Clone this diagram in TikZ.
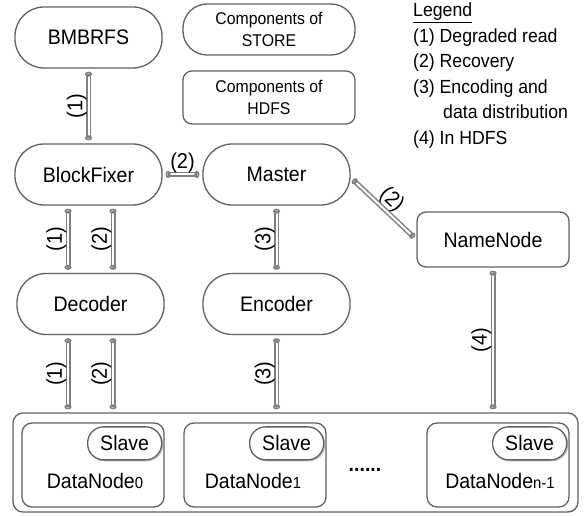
\documentclass[tikz,border=0pt]{standalone}
\usepackage{fontspec}
\setmainfont{Liberation Sans}[FakeStretch=0.93]
\usetikzlibrary{calc,arrows.meta}
\newcommand\fbig{\fontsize{21}{25}\selectfont}
\newcommand\fleg{\fontsize{19}{22}\selectfont}
\newcommand\flab{\fontsize{21.5}{24}\selectfont}
\newcommand\fcomp{\fontsize{17}{22}\selectfont}
\newcommand\fsub{\fontsize{16}{16}\selectfont}
\tikzset{bulb/.tip={Circle[open, length=5pt, width=7pt]}}
\begin{document}
\begin{tikzpicture}[x=1pt,y=-1pt,
  box/.style={draw=black!62, line width=1.3pt, align=center, inner sep=0pt},
  pill/.style={box, rounded corners=29pt, minimum width=147pt, minimum height=61pt, font=\fbig},
  rbox/.style={box, rounded corners=9pt},
  dnbox/.style={box, rounded corners=10pt, minimum width=142pt, minimum height=84pt},
  slave/.style={box, fill=white, rounded corners=16pt, minimum width=74pt, minimum height=33pt, font=\fbig},
  slaveshade/.style={draw=black!30, line width=1pt, rounded corners=16pt, minimum width=74pt, minimum height=33pt, inner sep=0pt},
  conn/.style={draw=black!50, double=white, double distance=2pt, line width=1.5pt,
    line cap=round, shorten <=3pt, shorten >=3pt, arrows={bulb-bulb}},
  lbl/.style={font=\flab, inner sep=1pt},
  vlbl/.style={lbl, rotate=90, anchor=south},
  leg/.style={font=\fleg, anchor=base west, inner sep=0pt}
]
\useasboundingbox (0,0) rectangle (587,516);

% STORE and HDFS components
\node[pill] (bm) at (88.5,37.5) {BMBRFS};
\node[pill] (bf) at (88.5,174.5) {BlockFixer};
\node[pill] (ms) at (276.5,174.5) {Master};
\node[pill] (dec) at (90.5,304) {Decoder};
\node[pill] (enc) at (276.5,304) {Encoder};
\node[rbox, minimum width=152pt, minimum height=55pt, font=\fbig] (nn) at (493,239.5) {NameNode};

% key boxes
\node[box, rounded corners=24pt, minimum width=172pt, minimum height=51pt, font=\fcomp] (kstore) at (269,29.5) {Components of\\STORE};
\node[rbox, minimum width=172pt, minimum height=53pt, font=\fcomp] (khdfs) at (269,97.5) {Components of\\HDFS};

% legend
\node[leg] (lg0) at (413,16.8) {\underline{Legend}};
\node[leg] (lg1) at (413,42.3) {(1) Degraded read};
\node[leg] (lg2) at (413,67.8) {(2) Recovery};
\node[leg] (lg3) at (413,93.3) {(3) Encoding and};
\node[leg] (lg4) at (443,118.8) {data distribution};
\node[leg] (lg5) at (413,144.3) {(4) In HDFS};

% data nodes
\node[box, rounded corners=10pt, minimum width=565pt, minimum height=99pt] (dn) at (295.5,462.5) {};
\node[dnbox] (d0) at (93,465) {};
\node[dnbox] (d1) at (255,465) {};
\node[dnbox] (d2) at (498,465) {};
\foreach \b/\n in {d0/s0, d1/s1, d2/s2}{
  \node[slaveshade] at ($(\b.north east)+(-39,22)$) {};
  \node[slave] (\n) at ($(\b.north east)+(-40,21)$) {Slave};
}
\node[font=\fbig, inner sep=0pt] (t0) at (95,481) {DataNode{\fsub 0}};
\node[font=\fbig, inner sep=0pt] (t1) at (253,481) {DataNode{\fsub 1}};
\node[font=\fbig, inner sep=0pt] (t2) at (500,481) {DataNode{\fsub n-1}};
\node[font=\fbig\bfseries, inner sep=0pt] (dots) at (365,470) {......};

% connectors
\draw[conn] (bm) -- (bf) node[midway, vlbl] {(1)};
\draw[conn] (bf) -- (ms) node[midway, lbl, above] {(2)};
\draw[conn] ([yshift=-3pt]ms.east) -- (nn.west) node[midway, lbl, rotate=-43, anchor=south] {(2)};
\draw[conn] ([xshift=-20.5pt]bf.south) -- ([xshift=-20.5pt]bf.south |- dec.north) node[midway, vlbl] {(1)};
\draw[conn] ([xshift=24.5pt]bf.south) -- ([xshift=24.5pt]bf.south |- dec.north) node[midway, vlbl] {(2)};
\draw[conn] (ms) -- (enc) node[midway, vlbl] {(3)};
\draw[conn] ([xshift=-22.5pt]dec.south) -- ([xshift=-22.5pt]dec.south |- dn.north) node[midway, vlbl] {(1)};
\draw[conn] ([xshift=22.5pt]dec.south) -- ([xshift=22.5pt]dec.south |- dn.north) node[midway, vlbl] {(2)};
\draw[conn] (enc.south) -- (enc.south |- dn.north) node[midway, vlbl] {(3)};
\draw[conn] (nn.south) -- (nn.south |- dn.north) node[midway, vlbl] {(4)};
\end{tikzpicture}
\end{document}
